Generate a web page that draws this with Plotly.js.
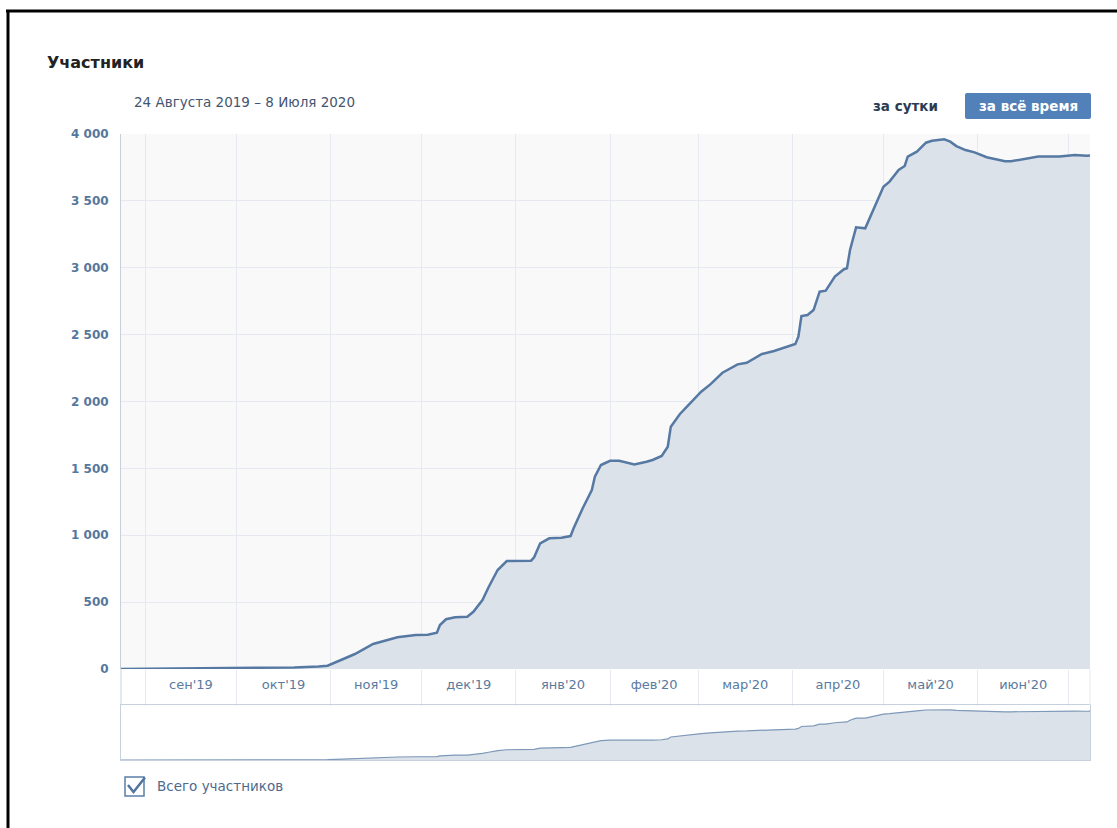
<!DOCTYPE html>
<html><head><meta charset="utf-8">
<script src="https://cdn.plot.ly/plotly-3.0.1.min.js"></script>
<style>html,body{margin:0;padding:0;background:#fff;} #chart{width:1117px;height:828px;}</style>
</head><body><div id="chart"></div>
<script>
const dates = ['2019-08-24','2019-09-10','2019-10-01','2019-10-20','2019-10-28','2019-10-31','2019-11-05','2019-11-09','2019-11-15','2019-11-20','2019-11-23','2019-11-29','2019-12-03','2019-12-06','2019-12-07','2019-12-09','2019-12-12','2019-12-16','2019-12-18','2019-12-21','2019-12-23','2019-12-26','2019-12-29','2020-01-06','2020-01-07','2020-01-09','2020-01-12','2020-01-16','2020-01-19','2020-01-20','2020-01-23','2020-01-26','2020-01-27','2020-01-29','2020-02-01','2020-02-04','2020-02-09','2020-02-13','2020-02-15','2020-02-18','2020-02-20','2020-02-21','2020-02-24','2020-02-26','2020-03-02','2020-03-05','2020-03-09','2020-03-14','2020-03-17','2020-03-22','2020-03-26','2020-04-02','2020-04-03','2020-04-04','2020-04-06','2020-04-08','2020-04-10','2020-04-12','2020-04-15','2020-04-18','2020-04-19','2020-04-20','2020-04-22','2020-04-25','2020-04-26','2020-05-01','2020-05-03','2020-05-06','2020-05-08','2020-05-09','2020-05-12','2020-05-15','2020-05-17','2020-05-21','2020-05-23','2020-05-25','2020-05-28','2020-05-31','2020-06-04','2020-06-10','2020-06-12','2020-06-17','2020-06-21','2020-06-28','2020-07-03','2020-07-07','2020-07-08'];
const members = [0,3,7,12,18,25,73,112,187,217,237,254,256,271,329,372,387,391,428,516,611,740,807,810,835,940,977,982,994,1052,1202,1338,1438,1525,1557,1557,1530,1550,1563,1593,1662,1812,1907,1954,2073,2128,2215,2278,2290,2355,2378,2430,2485,2639,2647,2684,2821,2829,2934,2989,2996,3133,3302,3295,3345,3606,3644,3731,3761,3831,3868,3935,3950,3960,3943,3910,3880,3863,3826,3796,3796,3818,3831,3831,3843,3838,3840];
const monthStarts = ['2019-09-01','2019-10-01','2019-11-01','2019-12-01','2020-01-01','2020-02-01','2020-03-01','2020-04-01','2020-05-01','2020-06-01','2020-07-01'];
const monthLabels = ["сен'19","окт'19","ноя'19","дек'19","янв'20","фев'20","мар'20","апр'20","май'20","июн'20"];
const yTickValues = [0,500,1000,1500,2000,2500,3000,3500,4000];
const dateRange = ['2019-08-24','2020-07-08'];

const labelPositions = monthLabels.map((_, i) => (Date.parse(monthStarts[i]) + Date.parse(monthStarts[i+1])) / 2);

const W = 1117, H = 828;
const px = v => v / W;
const py = v => (H - v) / H;

const lineColor = '#5679a3';
const fillColor = '#dce2ea';
const gridColor = '#e6e9ef';
const borderColor = '#c7d1dd';
const font = 'DejaVu Sans, Verdana, sans-serif';

const xDom = [px(121), px(1090)];

const traces = [
  {x: dates, y: members, xaxis: 'x', yaxis: 'y', type: 'scatter', mode: 'lines',
   line: {color: lineColor, width: 2.5}, fill: 'tozeroy', fillcolor: fillColor,
   hoverinfo: 'skip', showlegend: false},
  {x: dates, y: members, xaxis: 'x2', yaxis: 'y2', type: 'scatter', mode: 'lines',
   line: {color: '#7d98b8', width: 1.2}, fill: 'tozeroy', fillcolor: fillColor,
   hoverinfo: 'skip', showlegend: false}
];

const layout = {
  width: W, height: H,
  margin: {l: 0, r: 0, t: 0, b: 0},
  paper_bgcolor: '#ffffff', plot_bgcolor: '#ffffff',
  separators: '. ',
  font: {family: font, color: '#5a7aa0'},
  showlegend: false,
  xaxis: {
    domain: xDom, anchor: 'y', type: 'date', range: dateRange,
    tickmode: 'array', tickvals: labelPositions, ticktext: monthLabels,
    ticks: '', showgrid: false, zeroline: false, showline: false,
    tickfont: {family: font, size: 13, color: '#5a7aa0'},
    ticklabelstandoff: 6,
    minor: {tickmode: 'array', tickvals: monthStarts, ticks: 'outside', ticklen: 36,
            tickcolor: gridColor, tickwidth: 1, showgrid: true, gridcolor: gridColor, gridwidth: 1},
    fixedrange: true
  },
  yaxis: {
    domain: [py(669), py(134)], anchor: 'x', range: [0, 4000],
    tickmode: 'array', tickvals: yTickValues, separatethousands: true,
    ticks: '', showgrid: true, gridcolor: gridColor, gridwidth: 1, zeroline: false,
    showline: true, linecolor: borderColor, linewidth: 1,
    tickfont: {family: font, size: 12, color: '#56779d', weight: 'bold'},
    ticklabelstandoff: 9, fixedrange: true
  },
  xaxis2: {
    domain: xDom, anchor: 'y2', type: 'date', range: dateRange,
    showticklabels: false, ticks: '', showgrid: false, zeroline: false,
    showline: true, mirror: true, linecolor: borderColor, linewidth: 1, fixedrange: true
  },
  yaxis2: {
    domain: [py(760), py(705)], anchor: 'x2', range: [0, 4330],
    showticklabels: false, ticks: '', showgrid: false, zeroline: false,
    showline: true, mirror: true, linecolor: borderColor, linewidth: 1, fixedrange: true
  },
  shapes: [
    {type: 'rect', xref: 'x domain', yref: 'y domain', x0: 0, x1: 1, y0: 0, y1: 1,
     fillcolor: '#f9f9fa', line: {width: 0}, layer: 'below'},
    {type: 'line', xref: 'paper', yref: 'paper', x0: xDom[0], x1: xDom[0], y0: py(705), y1: py(669),
     line: {color: borderColor, width: 1}},
    {type: 'line', xref: 'paper', yref: 'paper', x0: xDom[1], x1: xDom[1], y0: py(705), y1: py(669),
     line: {color: gridColor, width: 1}},
    {type: 'path', xref: 'paper', yref: 'paper',
     path: `M ${px(967)} ${py(93)} L ${px(1089)} ${py(93)} Q ${px(1091)} ${py(93)} ${px(1091)} ${py(95)} L ${px(1091)} ${py(117)} Q ${px(1091)} ${py(119)} ${px(1089)} ${py(119)} L ${px(967)} ${py(119)} Q ${px(965)} ${py(119)} ${px(965)} ${py(117)} L ${px(965)} ${py(95)} Q ${px(965)} ${py(93)} ${px(967)} ${py(93)} Z`,
     fillcolor: '#5181b8', line: {width: 0}},
    {type: 'rect', xref: 'paper', yref: 'paper', x0: px(125), x1: px(144), y0: py(796), y1: py(777),
     fillcolor: '#ffffff', line: {color: '#5b7fa6', width: 1.5}},
    {type: 'path', xref: 'paper', yref: 'paper',
     path: `M ${px(128)} ${py(785)} L ${px(133.5)} ${py(792)} L ${px(145)} ${py(777.5)}`,
     line: {color: '#4f75a0', width: 2.5}},
    {type: 'line', xref: 'paper', yref: 'paper', x0: px(6), x1: px(1117), y0: py(11), y1: py(11),
     line: {color: '#000000', width: 3}},
    {type: 'line', xref: 'paper', yref: 'paper', x0: px(8), x1: px(8), y0: py(10), y1: py(828),
     line: {color: '#000000', width: 3}}
  ],
  annotations: [
    {xref: 'paper', yref: 'paper', x: px(45), y: py(62), xanchor: 'left', yanchor: 'middle',
     text: 'Участники', showarrow: false, font: {family: font, size: 16, color: '#222222', weight: 'bold'}},
    {xref: 'paper', yref: 'paper', x: px(132), y: py(102), xanchor: 'left', yanchor: 'middle',
     text: '24 Августа 2019 – 8 Июля 2020', showarrow: false, font: {family: font, size: 13.5, color: '#44566f'}},
    {xref: 'paper', yref: 'paper', x: px(871), y: py(106), xanchor: 'left', yanchor: 'middle',
     text: 'за сутки', showarrow: false, font: {family: font, size: 13.5, color: '#2b3c52', weight: 'bold'}},
    {xref: 'paper', yref: 'paper', x: px(1028), y: py(106), xanchor: 'center', yanchor: 'middle',
     text: 'за всё время', showarrow: false, font: {family: font, size: 13.5, color: '#ffffff', weight: 'bold'}},
    {xref: 'paper', yref: 'paper', x: px(155), y: py(786), xanchor: 'left', yanchor: 'middle',
     text: 'Всего участников', showarrow: false, font: {family: font, size: 13.5, color: '#4f6a8f'}}
  ]
};

Plotly.newPlot('chart', traces, layout, {staticPlot: true, displayModeBar: false});
</script>
</body></html>
